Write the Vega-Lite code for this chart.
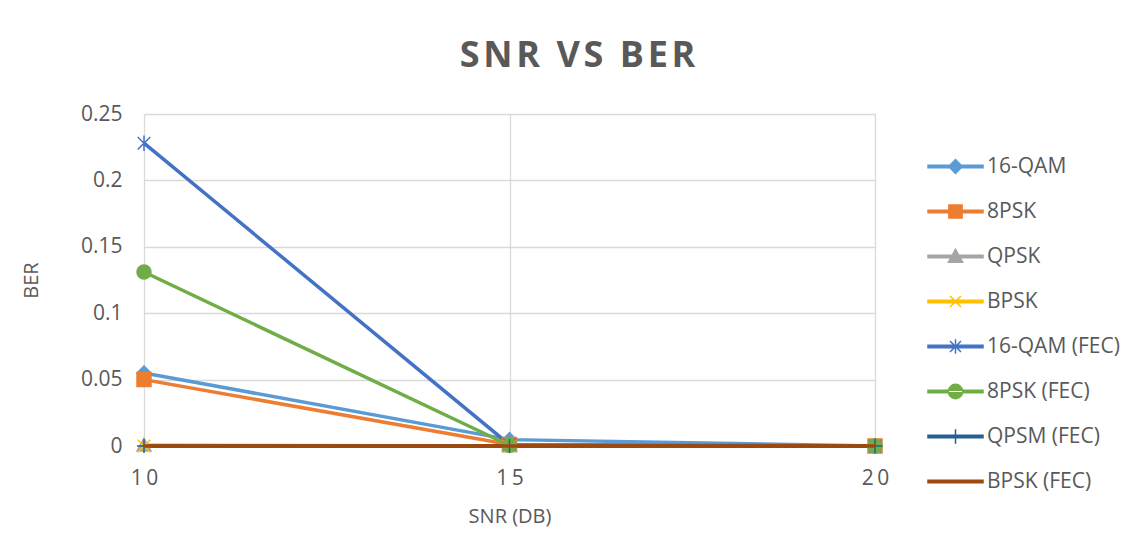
{
  "$schema": "https://vega.github.io/schema/vega-lite/v6.json",
  "autosize": {"type": "none"},
  "width": 731,
  "height": 332,
  "padding": {"left": 144, "top": 114, "right": 268, "bottom": 110},
  "background": "white",
  "title": {
    "text": "S\u200aN\u200aR\u200a \u200aV\u200aS\u200a \u200aB\u200aE\u200aR",
    "fontSize": 36,
    "font": "Open Sans",
    "fontWeight": "bold",
    "color": "#595959",
    "anchor": "middle",
    "frame": "group",
    "dx": 68,
    "offset": 28
  },
  "config": {
    "font": "Open Sans",
    "view": {"stroke": null},
    "axis": {
      "labelColor": "#595959",
      "titleColor": "#595959",
      "labelFont": "Open Sans",
      "titleFont": "Open Sans",
      "labelFontSize": 21,
      "titleFontSize": 20,
      "titleFontWeight": "normal",
      "gridColor": "#D9D9D9",
      "gridWidth": 1.3,
      "domainColor": "#D9D9D9",
      "domainWidth": 1.3,
      "ticks": false
    }
  },
  "data": {
    "values": [
      {"series": "16-QAM", "snr": 10, "ber": 0.055},
      {"series": "16-QAM", "snr": 15, "ber": 0.0048},
      {"series": "16-QAM", "snr": 20, "ber": 0.0},
      {"series": "8PSK", "snr": 10, "ber": 0.05},
      {"series": "8PSK", "snr": 15, "ber": 0.0012},
      {"series": "8PSK", "snr": 20, "ber": 0.0},
      {"series": "QPSK", "snr": 10, "ber": 0.0005},
      {"series": "QPSK", "snr": 15, "ber": 0.0},
      {"series": "QPSK", "snr": 20, "ber": 0.0},
      {"series": "BPSK", "snr": 10, "ber": 0.0},
      {"series": "BPSK", "snr": 15, "ber": 0.0},
      {"series": "BPSK", "snr": 20, "ber": 0.0},
      {"series": "16-QAM (FEC)", "snr": 10, "ber": 0.228},
      {"series": "16-QAM (FEC)", "snr": 15, "ber": 0.001},
      {"series": "16-QAM (FEC)", "snr": 20, "ber": 0.0},
      {"series": "8PSK (FEC)", "snr": 10, "ber": 0.131},
      {"series": "8PSK (FEC)", "snr": 15, "ber": 0.0005},
      {"series": "8PSK (FEC)", "snr": 20, "ber": 0.0},
      {"series": "QPSM (FEC)", "snr": 10, "ber": 0.0},
      {"series": "QPSM (FEC)", "snr": 15, "ber": 0.0},
      {"series": "QPSM (FEC)", "snr": 20, "ber": 0.0},
      {"series": "BPSK (FEC)", "snr": 10, "ber": 0.0},
      {"series": "BPSK (FEC)", "snr": 15, "ber": 0.0},
      {"series": "BPSK (FEC)", "snr": 20, "ber": 0.0}
    ]
  },
  "encoding": {
    "x": {
      "field": "snr",
      "type": "quantitative",
      "scale": {"domain": [10, 20], "nice": false, "zero": false},
      "axis": {
        "values": [10, 15, 20],
        "grid": true,
        "domain": true,
        "title": "SNR (DB)",
        "labelFlush": false,
        "labelPadding": 21,
        "titlePadding": 18,
        "labelExpr": "join(split(datum.label, ''), '\u2009')"
      }
    },
    "y": {
      "field": "ber",
      "type": "quantitative",
      "scale": {"domain": [0, 0.25], "nice": false},
      "axis": {
        "values": [0, 0.05, 0.1, 0.15, 0.2, 0.25],
        "format": "~g",
        "grid": true,
        "domain": false,
        "labelFlush": false,
        "title": "BER",
        "labelPadding": 22,
        "titlePadding": 39
      }
    }
  },
  "layer": [
    {
      "mark": {"type": "line", "strokeWidth": 3.5},
      "encoding": {
        "color": {
          "field": "series",
          "type": "nominal",
          "scale": {
            "domain": ["16-QAM", "8PSK", "QPSK", "BPSK", "16-QAM (FEC)", "8PSK (FEC)", "QPSM (FEC)", "BPSK (FEC)"],
            "range": ["#5B9BD5", "#ED7D31", "#A5A5A5", "#FFC000", "#4472C4", "#70AD47", "#255E91", "#9E480E"]
          },
          "legend": null
        }
      }
    },
    {
      "transform": [{"filter": "datum.series != 'BPSK (FEC)'"}],
      "mark": {"type": "point", "filled": true, "size": 196, "strokeWidth": 1.5, "opacity": 1},
      "encoding": {
        "color": {
          "field": "series",
          "type": "nominal",
          "scale": {
            "domain": ["16-QAM", "8PSK", "QPSK", "BPSK", "16-QAM (FEC)", "8PSK (FEC)", "QPSM (FEC)", "BPSK (FEC)"],
            "range": ["#5B9BD5", "#ED7D31", "#A5A5A5", "#FFC000", "#4472C4", "#70AD47", "#255E91", "#9E480E"]
          },
          "legend": null
        },
        "stroke": {
          "field": "series",
          "type": "nominal",
          "scale": {
            "domain": ["16-QAM", "8PSK", "QPSK", "BPSK", "16-QAM (FEC)", "8PSK (FEC)", "QPSM (FEC)", "BPSK (FEC)"],
            "range": ["#5B9BD5", "#ED7D31", "#A5A5A5", "#FFC000", "#4472C4", "#70AD47", "#255E91", "#9E480E"]
          },
          "legend": null
        },
        "shape": {
          "field": "series",
          "type": "nominal",
          "scale": {
            "domain": ["16-QAM", "8PSK", "QPSK", "BPSK", "16-QAM (FEC)", "8PSK (FEC)", "QPSM (FEC)", "BPSK (FEC)"],
            "range": [
              "M0,-1L1,0L0,1L-1,0Z",
              "M-1,-1H1V1H-1Z",
              "M0,-1L1,0.8H-1Z",
              "M-0.9,-0.9L0.9,0.9M0.9,-0.9L-0.9,0.9",
              "M-0.9,-0.9L0.9,0.9M0.9,-0.9L-0.9,0.9M0,-1.1V1.1",
              "circle",
              "M0,-1V1M-1,0H1",
              "M0,0"
            ]
          },
          "legend": null
        }
      }
    },
    {
      "transform": [{"filter": "datum.series == 'BPSK (FEC)'"}],
      "mark": {"type": "line", "strokeWidth": 3.5, "color": "#9E480E"},
      "encoding": {}
    },
    {
      "transform": [{"filter": "false"}],
      "mark": {"type": "point", "filled": true, "opacity": 1, "strokeWidth": 1.5},
      "encoding": {
        "color": {
          "field": "series",
          "type": "nominal",
          "scale": {
            "domain": ["16-QAM", "8PSK", "QPSK", "BPSK", "16-QAM (FEC)", "8PSK (FEC)", "QPSM (FEC)", "BPSK (FEC)"],
            "range": ["#5B9BD5", "#ED7D31", "#A5A5A5", "#FFC000", "#4472C4", "#70AD47", "#255E91", "#9E480E"]
          },
          "legend": {
            "orient": "none",
            "legendX": 783,
            "legendY": 24,
            "title": null,
            "padding": 0,
            "symbolSize": 3025,
            "symbolStrokeWidth": 1.5,
            "labelFontSize": 21,
            "labelFont": "Open Sans",
            "labelColor": "#595959",
            "labelOffset": 3,
            "rowPadding": 6
          }
        },
        "stroke": {
          "field": "series",
          "type": "nominal",
          "scale": {
            "domain": ["16-QAM", "8PSK", "QPSK", "BPSK", "16-QAM (FEC)", "8PSK (FEC)", "QPSM (FEC)", "BPSK (FEC)"],
            "range": ["#5B9BD5", "#ED7D31", "#A5A5A5", "#FFC000", "#4472C4", "#70AD47", "#255E91", "#9E480E"]
          },
          "legend": {
            "orient": "none",
            "legendX": 783,
            "legendY": 24,
            "title": null,
            "padding": 0,
            "symbolSize": 3025,
            "symbolStrokeWidth": 1.5,
            "labelFontSize": 21,
            "labelFont": "Open Sans",
            "labelColor": "#595959",
            "labelOffset": 3,
            "rowPadding": 6
          }
        },
        "shape": {
          "field": "series",
          "type": "nominal",
          "scale": {
            "domain": ["16-QAM", "8PSK", "QPSK", "BPSK", "16-QAM (FEC)", "8PSK (FEC)", "QPSM (FEC)", "BPSK (FEC)"],
            "range": [
              "M-1,-0.045H1V0.045H-1Z M0,-0.25L0.25,0L0,0.25L-0.25,0Z",
              "M-1,-0.045H1V0.045H-1Z M-0.24,-0.24H0.24V0.24H-0.24Z",
              "M-1,-0.045H1V0.045H-1Z M0,-0.26L0.26,0.21H-0.26Z",
              "M-1,-0.045H1V0.045H-1Z M-0.2,-0.2L0.2,0.2M0.2,-0.2L-0.2,0.2",
              "M-1,-0.045H1V0.045H-1Z M-0.2,-0.2L0.2,0.2M0.2,-0.2L-0.2,0.2M0,-0.26V0.26",
              "M-1,-0.045H1V0.045H-1Z M-0.26,0A0.26,0.26 0 1,0 0.26,0A0.26,0.26 0 1,0 -0.26,0Z",
              "M-1,-0.045H1V0.045H-1Z M0,-0.26V0.26",
              "M-1,-0.045H1V0.045H-1Z"
            ]
          },
          "legend": {
            "orient": "none",
            "legendX": 783,
            "legendY": 24,
            "title": null,
            "padding": 0,
            "symbolSize": 3025,
            "symbolStrokeWidth": 1.5,
            "labelFontSize": 21,
            "labelFont": "Open Sans",
            "labelColor": "#595959",
            "labelOffset": 3,
            "rowPadding": 6
          }
        }
      }
    }
  ],
  "resolve": {"scale": {"shape": "independent", "color": "independent", "stroke": "independent"}}
}
